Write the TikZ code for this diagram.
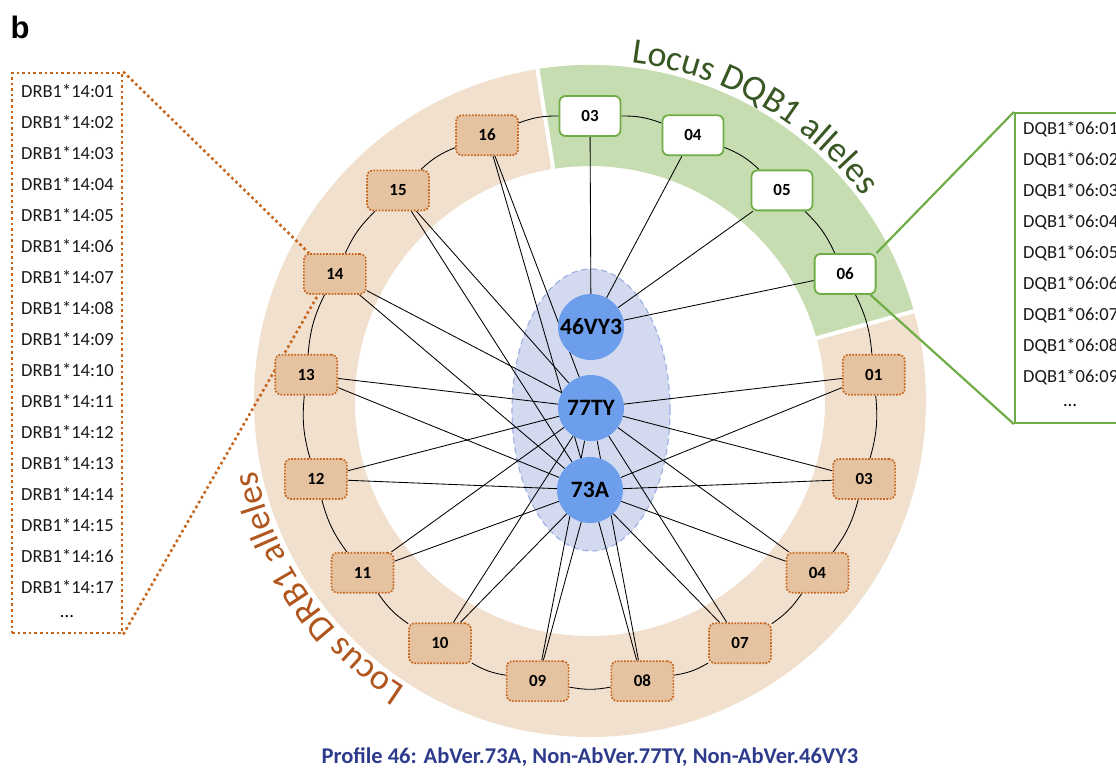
\documentclass[tikz,border=0pt]{standalone}
\usepackage{fontspec}
\setmainfont{Carlito}
\newfontfamily\titlefont{Liberation Sans}
\usetikzlibrary{decorations.text}
\definecolor{ringtan}{HTML}{F1E0CE}
\definecolor{ringgreen}{HTML}{C5DDB0}
\definecolor{nodetan}{HTML}{E5C3A0}
\definecolor{dotbrown}{HTML}{C8651D}
\definecolor{qgreen}{HTML}{70AD47}
\definecolor{textgreen}{HTML}{385723}
\definecolor{textbrown}{HTML}{B0561E}
\definecolor{hubblue}{HTML}{6D9EEB}
\definecolor{elfill}{HTML}{D3DAF0}
\definecolor{eldraw}{HTML}{9DB1E3}
\definecolor{capblue}{HTML}{2E3B8C}
\pgfdeclarelayer{back}
\pgfdeclarelayer{edges}
\pgfsetlayers{back,edges,main}
\begin{document}
\begin{tikzpicture}[x=1pt,y=1pt,
  drb/.style={rectangle, rounded corners=6pt, minimum width=62pt, minimum height=40pt, inner sep=0pt,
     fill=nodetan, draw=dotbrown, line width=1.7pt, dash pattern=on 1.7pt off 1.5pt,
     font=\bfseries\fontsize{17}{17}\selectfont},
  dqb/.style={rectangle, rounded corners=6pt, minimum width=61pt, minimum height=40pt, inner sep=0pt,
     fill=white, draw=qgreen, line width=1.8pt, font=\bfseries\fontsize{17}{17}\selectfont},
  hub/.style={circle, minimum size=66pt, inner sep=0pt, fill=hubblue,
     font=\bfseries\fontsize{23.5}{23.5}\selectfont},
  link/.style={black, line width=0.85pt},
  ringlink/.style={black, line width=0.85pt},
  listtext/.style={anchor=west, inner sep=0pt, font=\fontsize{18.5}{18.5}\selectfont, text=black!90},
  dotline/.style={dotbrown, line width=2.6pt, dash pattern=on 2.6pt off 3pt},
  dotbox/.style={rectangle, draw=dotbrown, line width=2.6pt, dash pattern=on 2.6pt off 3pt,
     minimum width=110pt, minimum height=560pt, inner sep=0pt},
  greenline/.style={qgreen, line width=2.2pt},
  greenbox/.style={rectangle, draw=qgreen, line width=2.2pt,
     minimum width=110pt, minimum height=310pt, inner sep=0pt},
]
\useasboundingbox (0,0) rectangle (1116,-768);
\coordinate (C) at (590,-401);
\begin{pgfonlayer}{back}
  \fill[ringtan, even odd rule] (C) circle[radius=336] (C) circle[radius=235];
  \fill[ringgreen] ([shift={(15.5:336)}]C) arc[start angle=15.5, end angle=99, radius=336]
     -- ([shift={(99:235)}]C) arc[start angle=99, end angle=15.5, radius=235] -- cycle;
  \draw[white, line width=4pt] ([shift={(15.5:232)}]C) -- ([shift={(15.5:339)}]C);
  \draw[white, line width=4pt] ([shift={(99:232)}]C) -- ([shift={(99:339)}]C);
  \draw[eldraw, fill=elfill, line width=1.2pt, dash pattern=on 6pt off 4pt]
     (591,-410) ellipse[x radius=79, y radius=141];
\end{pgfonlayer}
% ring nodes
\foreach \nm/\lab/\k in {q03/03/0, q04/04/1, q05/05/2, q06/06/3}
  \node[dqb] (\nm) at ([shift={({90-\k*360/17}:285)}]C) {\lab};
\foreach \nm/\lab/\k in {r01/01/4, r03/03/5, r04/04/6, r07/07/7, r08/08/8, r09/09/9, r10/10/10,
   r11/11/11, r12/12/12, r13/13/13, r14/14/14, r15/15/15, r16/16/16}
  \node[drb] (\nm) at ([shift={({90-\k*360/17}:285)}]C) {\lab};
% hubs
\node[hub] (h46) at (591,-327) {46VY3};
\node[hub] (h77) at (591,-408) {77TY};
\node[hub] (h73) at (590,-490) {73A};
% lists
\node[dotbox] (lbox) at (67,-353) {};
\foreach \i [count=\k from 0] in {01,02,03,04,05,06,07,08,09,10,11,12,13,14,15,16,17}
  \node[listtext] (dl\i) at (21,{-91-31*\k}) {DRB1*14:\i};
\node[inner sep=0pt, font=\fontsize{18.5}{18.5}\selectfont] (dldots) at (67,-617) {...};
\node[greenbox] (rbox) at (1070,-268) {};
\foreach \i [count=\k from 0] in {01,02,03,04,05,06,07,08,09}
  \node[listtext] (ql\i) at (1023,{-129-31*\k}) {DQB1*06:\i};
\node[inner sep=0pt, font=\fontsize{18.5}{18.5}\selectfont] (qldots) at (1070,-406) {...};
% connectors
\begin{pgfonlayer}{edges}
  \foreach \a/\b in {q03/q04,q04/q05,q05/q06,q06/r01,r01/r03,r03/r04,r04/r07,r07/r08,r08/r09,
     r09/r10,r10/r11,r11/r12,r12/r13,r13/r14,r14/r15,r15/r16,r16/q03}
    \draw[ringlink] (\a) to[bend left=10.6] (\b);
  \foreach \r in {r01,r03,r04,r07,r08,r09,r10,r11,r12,r13,r14,r15,r16}{
    \draw[link] (\r) -- (h77);
    \draw[link] (\r) -- (h73);
  }
  \foreach \q in {q03,q04,q05,q06}
    \draw[link] (\q) -- (h46);
  \draw[dotline] (lbox.north east) -- ([xshift=6pt]r14.north west);
  \draw[dotline] (lbox.south east) -- ([xshift=15pt]r14.south west);
  \draw[greenline] (rbox.north west) -- (q06.north east);
  \draw[greenline] (rbox.south west) -- ([xshift=-6pt]q06.south east);
\end{pgfonlayer}
% curved labels
\path[decorate, decoration={text along path, text={|\fontsize{36}{36}\selectfont|Locus DQB1 alleles},
   text align=center, text color=textgreen}]
   ([shift={(90:341)}]C) arc[start angle=90, end angle=30, radius=341];
\path[decorate, decoration={text along path, text={|\fontsize{36}{36}\selectfont|Locus DRB1 alleles},
   text align=center, text color=textbrown}]
   ([shift={(244.5:341)}]C) arc[start angle=244.5, end angle=184.5, radius=341];
% title and caption
\node[inner sep=0pt, font=\titlefont\bfseries\fontsize{31}{31}\selectfont] (title) at (20,-27) {b};
\node[inner sep=0pt, text=capblue, font=\bfseries\fontsize{22.5}{22.5}\selectfont] (cap) at (590,-757)
   {Profile 46: AbVer.73A, Non-AbVer.77TY, Non-AbVer.46VY3};
\end{tikzpicture}
\end{document}
